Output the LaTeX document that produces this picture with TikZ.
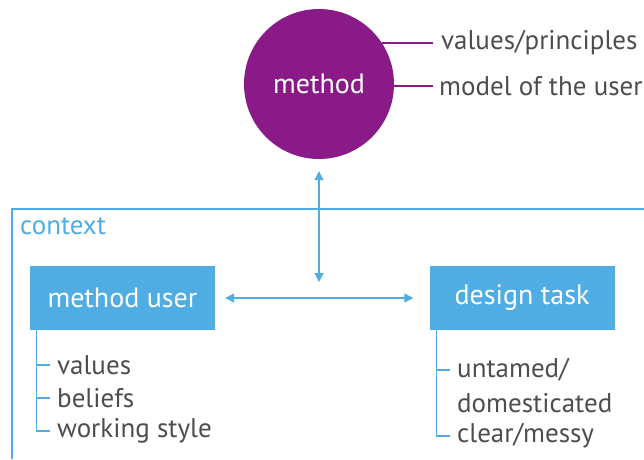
\documentclass[tikz,border=0pt]{standalone}
\usepackage{fontspec}
\setmainfont{PT Sans}
\usetikzlibrary{arrows.meta,calc}
\definecolor{mpurple}{HTML}{8B1A89}
\definecolor{mblue}{HTML}{4FADE3}
\definecolor{mgray}{HTML}{4D4D4D}
\begin{document}
\begin{tikzpicture}[x=1pt,y=-1pt,
  bluebox/.style={fill=mblue,minimum width=185pt,minimum height=64pt,text=white,font=\fontsize{28}{32}\selectfont},
  lbl/.style={text=mgray,font=\fontsize{27}{31}\selectfont,anchor=west,inner sep=0pt},
  bline/.style={draw=mblue,line width=1.2pt},
  arr/.style={draw=mblue,line width=1.2pt,{Triangle[length=9pt,width=9pt]}-{Triangle[length=9pt,width=9pt]}},
  pline/.style={draw=mpurple,line width=2.6pt}]
\useasboundingbox (0,0) rectangle (644,459);
% context frame
\coordinate (cr) at (644,209);
\coordinate (ctl) at (12,209);
\coordinate (cb) at (12,459);
\draw[mblue,line width=1.2pt] (cr) -- (ctl) -- (cb);
\node[text=mblue,font=\fontsize{27}{31}\selectfont,anchor=west,inner sep=0pt] (ctx) at (20,226) {context};
% method circle
\node[circle,fill=mpurple,minimum size=150pt,inner sep=0pt,text=white,font=\fontsize{28}{32}\selectfont] (method) at (319,84) {method};
\node[lbl] (vp) at (441,43) {values/principles};
\node[lbl] (mo) at (439,86) {model of the user};
\draw[pline] (method.33 |- vp.west) -- ($(vp.west)+(-8,0)$);
\draw[pline] (method.east |- mo.west) -- ($(mo.west)+(-6,0)$);
% boxes
\node[bluebox] (mu) at (122.5,298) {method user};
\node[bluebox] (dt) at (522,298) {design task};
% arrows
\draw[arr,shorten <=10pt,shorten >=16pt] (mu.east) -- (dt.west);
\draw[arr,shorten <=12pt,shorten >=16pt] (method.south) -- (method.south |- mu.east);
% left tree
\coordinate (lt0) at ($(mu.south west)+(7,0)$);
\node[lbl] (l1) at (57,365) {values};
\node[lbl] (l2) at (57,398) {beliefs};
\node[lbl] (l3) at (57,431) {working style};
\draw[bline] (lt0) -- (lt0 |- l3.west) -- ($(l3.west)+(-7,0)$);
\draw[bline] (lt0 |- l1.west) -- ($(l1.west)+(-7,0)$);
\draw[bline] (lt0 |- l2.west) -- ($(l2.west)+(-7,0)$);
% right tree
\coordinate (rt0) at ($(dt.south west)+(7,0)$);
\node[lbl] (r1) at (457,370) {untamed/};
\node[lbl] (r2) at (457,403) {domesticated};
\node[lbl] (r3) at (457,436) {clear/messy};
\draw[bline] (rt0) -- (rt0 |- r3.west) -- ($(r3.west)+(-7,0)$);
\draw[bline] (rt0 |- r1.west) -- ($(r1.west)+(-7,0)$);
\end{tikzpicture}
\end{document}
